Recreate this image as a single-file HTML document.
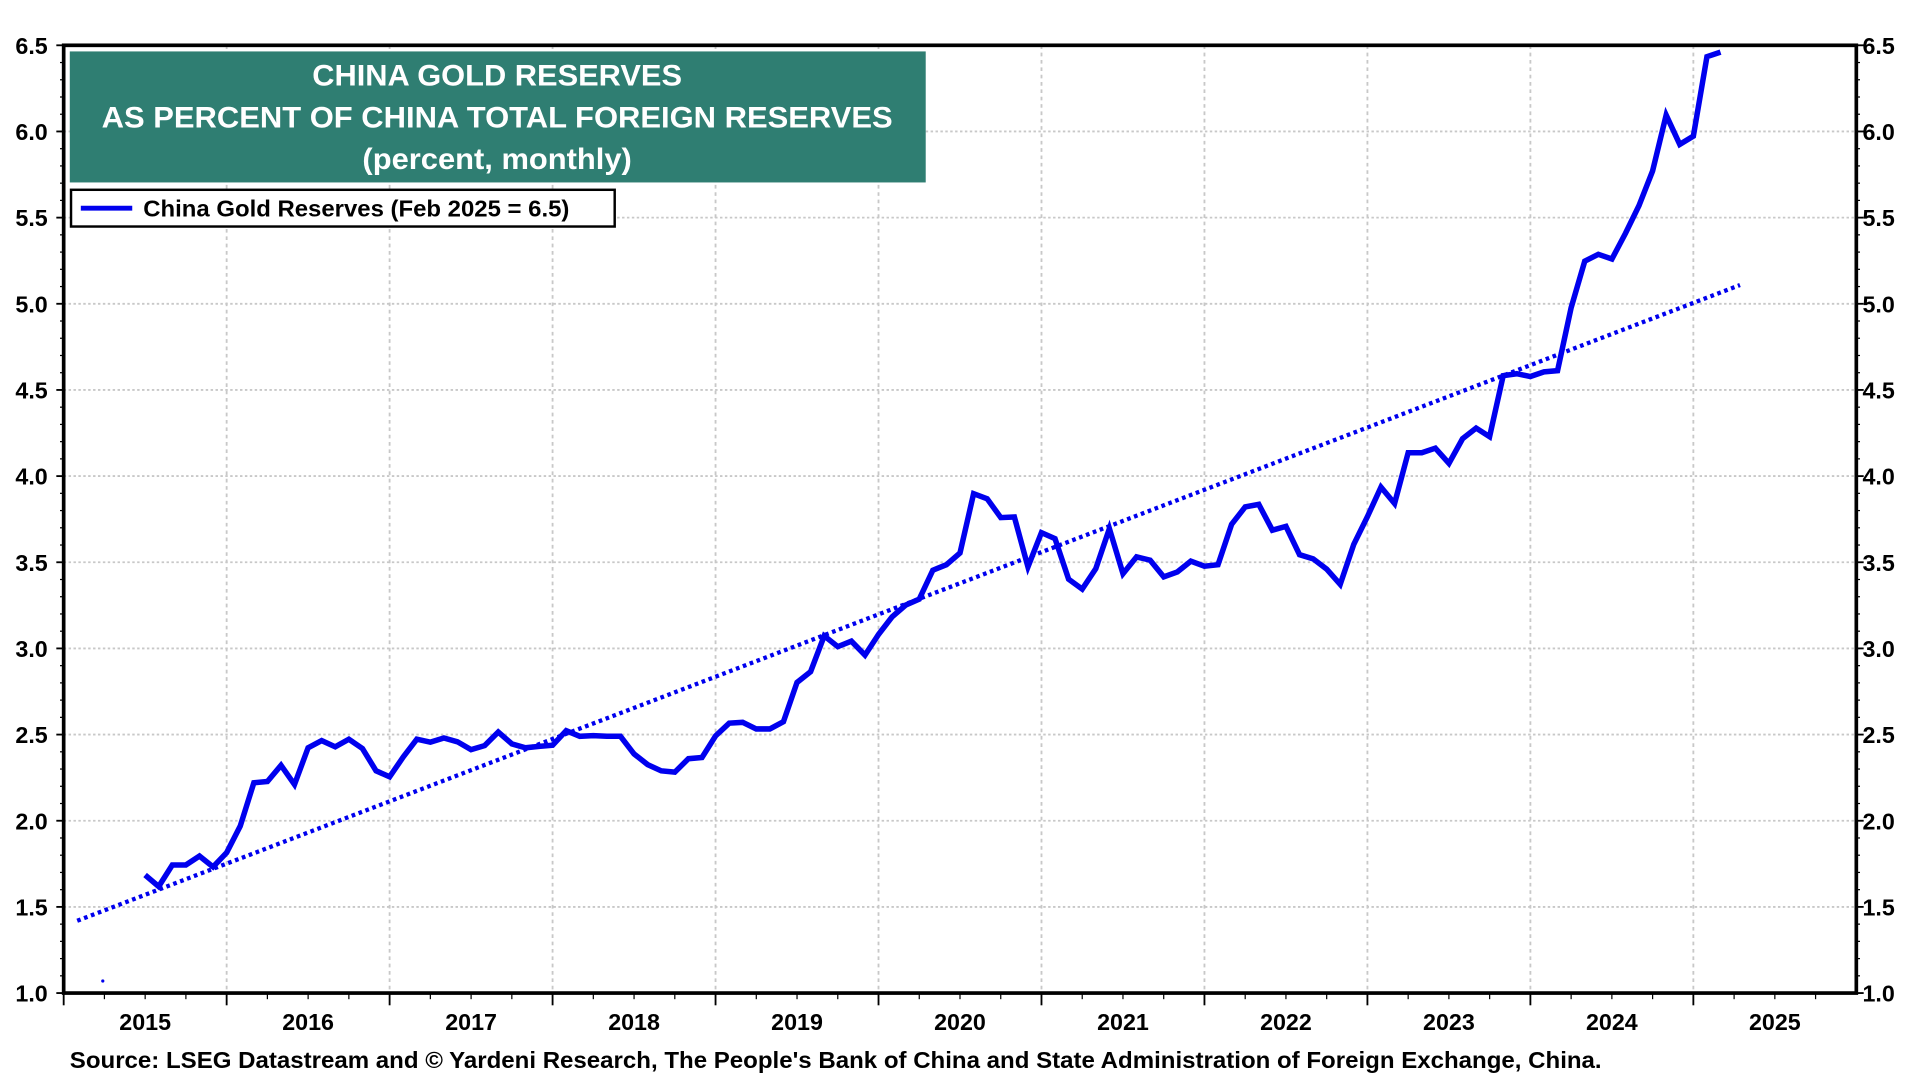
<!DOCTYPE html>
<html><head><meta charset="utf-8"><style>
html,body{margin:0;padding:0;background:#fff;}
svg{display:block;font-family:"Liberation Sans",Arial,sans-serif;font-weight:bold;}
</style></head><body>
<svg id="chart" width="1920" height="1080" viewBox="0 0 1568 882" xmlns="http://www.w3.org/2000/svg">
<g id="grid"></g>
<g id="axes"></g>
<g id="series"></g>
<rect x="57" y="42" width="699" height="107" fill="#2f7e72"/>
<text x="406" y="70" fill="#fff" font-size="24" text-anchor="middle" textLength="302" lengthAdjust="spacingAndGlyphs">CHINA GOLD RESERVES</text>
<text x="406" y="104" fill="#fff" font-size="24" text-anchor="middle" textLength="646" lengthAdjust="spacingAndGlyphs">AS PERCENT OF CHINA TOTAL FOREIGN RESERVES</text>
<text x="406" y="138" fill="#fff" font-size="24" text-anchor="middle" textLength="220" lengthAdjust="spacingAndGlyphs">(percent, monthly)</text>
<g>
<rect x="58" y="155" width="444" height="30" fill="#fff" stroke="#000" stroke-width="2"/>
<line x1="66" y1="170" x2="108" y2="170" stroke="#0000ee" stroke-width="4"/>
<text x="117" y="177" font-size="19" fill="#000" textLength="348" lengthAdjust="spacingAndGlyphs">China Gold Reserves (Feb 2025 = 6.5)</text>
</g>
<text x="57" y="872" font-size="19" fill="#000" textLength="1251" lengthAdjust="spacingAndGlyphs">Source: LSEG Datastream and © Yardeni Research, The People's Bank of China and State Administration of Foreign Exchange, China.</text>
</svg>
<script>
const startYear = 2015, startMonth = 7; // first observation Jul 2015
const values = [
1.685,1.618,1.743,1.743,1.795,1.732,
1.815,1.969,2.22,2.228,2.322,2.21,2.423,2.465,2.429,2.473,2.419,2.29,
2.255,2.37,2.473,2.456,2.48,2.458,2.413,2.436,2.515,2.446,2.423,2.432,
2.438,2.523,2.49,2.494,2.49,2.49,2.388,2.326,2.29,2.282,2.36,2.367,
2.492,2.566,2.571,2.533,2.533,2.575,2.803,2.865,3.073,3.01,3.042,2.961,
3.081,3.183,3.251,3.286,3.454,3.486,3.554,3.898,3.869,3.759,3.763,3.473,
3.672,3.637,3.402,3.344,3.463,3.695,3.434,3.531,3.512,3.415,3.444,3.506,
3.477,3.486,3.72,3.821,3.836,3.686,3.708,3.544,3.52,3.46,3.372,3.604,
3.764,3.936,3.841,4.136,4.136,4.162,4.074,4.217,4.279,4.229,4.583,4.594,
4.578,4.605,4.612,4.977,5.247,5.287,5.26,5.409,5.57,5.77,6.095,5.925,
5.973,6.434,6.46
];
const yTicks = [1.0,1.5,2.0,2.5,3.0,3.5,4.0,4.5,5.0,5.5,6.0,6.5];
const xYears = [2015,2016,2017,2018,2019,2020,2021,2022,2023,2024,2025];
const trendRange = [2015.083, 2025.286];
const strayPoint = [2015.24, 1.07];

const L=52,R=1516,T=37,B=811, X0=2015, X1=2026, Y0=1.0, Y1=6.5;
const xs = t => L + (t-X0)/(X1-X0)*(R-L);
const ys = v => B - (v-Y0)/(Y1-Y0)*(B-T);
const NS="http://www.w3.org/2000/svg";
function mk(tag, parent, attrs){const e=document.createElementNS(NS,tag);for(const k in attrs)e.setAttribute(k,attrs[k]);parent.appendChild(e);return e;}
const grid=document.getElementById('grid'), axes=document.getElementById('axes'), series=document.getElementById('series');

yTicks.forEach(v=>{
  const y=ys(v);
  if(v>Y0 && v<Y1){const g=mk('line',grid,{x1:L,x2:R,y1:y,y2:y,stroke:'#c8c8c8','stroke-width':1.5,'stroke-dasharray':'2 2'});
  
  }
  const tl=mk('text',axes,{x:39,y:y+7,'font-size':19,'text-anchor':'end'});tl.textContent=v.toFixed(1);
  
  
  const tr=mk('text',axes,{x:1521,y:y+7,'font-size':19});tr.textContent=v.toFixed(1);
  
  
  mk('line',axes,{x1:L-6,x2:L,y1:y,y2:y,stroke:'#000','stroke-width':1.5});
  mk('line',axes,{x1:R,x2:R+6,y1:y,y2:y,stroke:'#000','stroke-width':1.5});
});
for(let v=Y0;v<=Y1+1e-9;v+=0.1){const y=ys(v);
  mk('line',axes,{x1:L-3,x2:L,y1:y,y2:y,stroke:'#000','stroke-width':1});
  mk('line',axes,{x1:R,x2:R+3,y1:y,y2:y,stroke:'#000','stroke-width':1});}

xYears.forEach(yr=>{
  const x=xs(yr);
  if(yr>X0){const g=mk('line',grid,{x1:x,x2:x,y1:T,y2:B,stroke:'#c8c8c8','stroke-width':1.5,'stroke-dasharray':'3 3'});
  
  }
  mk('line',axes,{x1:x,x2:x,y1:B,y2:B+10,stroke:'#000','stroke-width':1.5});
  for(let q=1;q<4;q++){const xq=xs(yr+q/4);mk('line',axes,{x1:xq,x2:xq,y1:B,y2:B+5,stroke:'#000','stroke-width':1});}
  const t=mk('text',axes,{x:xs(yr+0.5),y:841,'font-size':19,'text-anchor':'middle'});t.textContent=yr;
  
  
});
const fr=mk('rect',axes,{x:L,y:T,width:R-L,height:B-T,fill:'none',stroke:'#000','stroke-width':3});



const times = values.map((v,i)=>{const m=startMonth-1+i;return startYear+Math.floor(m/12)+(m%12)/12;});
const n=values.length, mt=times.reduce((a,b)=>a+b)/n, mv=values.reduce((a,b)=>a+b)/n;
let sxy=0,sxx=0;times.forEach((t,i)=>{sxy+=(t-mt)*(values[i]-mv);sxx+=(t-mt)*(t-mt);});
const slope=sxy/sxx, icpt=mv-slope*mt;
const tr=mk('line',series,{x1:xs(trendRange[0]),y1:ys(icpt+slope*trendRange[0]),x2:xs(trendRange[1]),y2:ys(icpt+slope*trendRange[1]),stroke:'#0000ee','stroke-width':3.5,'stroke-dasharray':'3 3'});


const pts=times.map((t,i)=>xs(t).toFixed(1)+','+ys(values[i]).toFixed(1)).join(' ');
const pl=mk('polyline',series,{points:pts,fill:'none',stroke:'#0000ee','stroke-width':4.5,'stroke-linejoin':'miter'});


const sp=mk('circle',series,{cx:xs(strayPoint[0]),cy:ys(strayPoint[1]),r:1.3,fill:'#0000ee'});


</script>
</body></html>
